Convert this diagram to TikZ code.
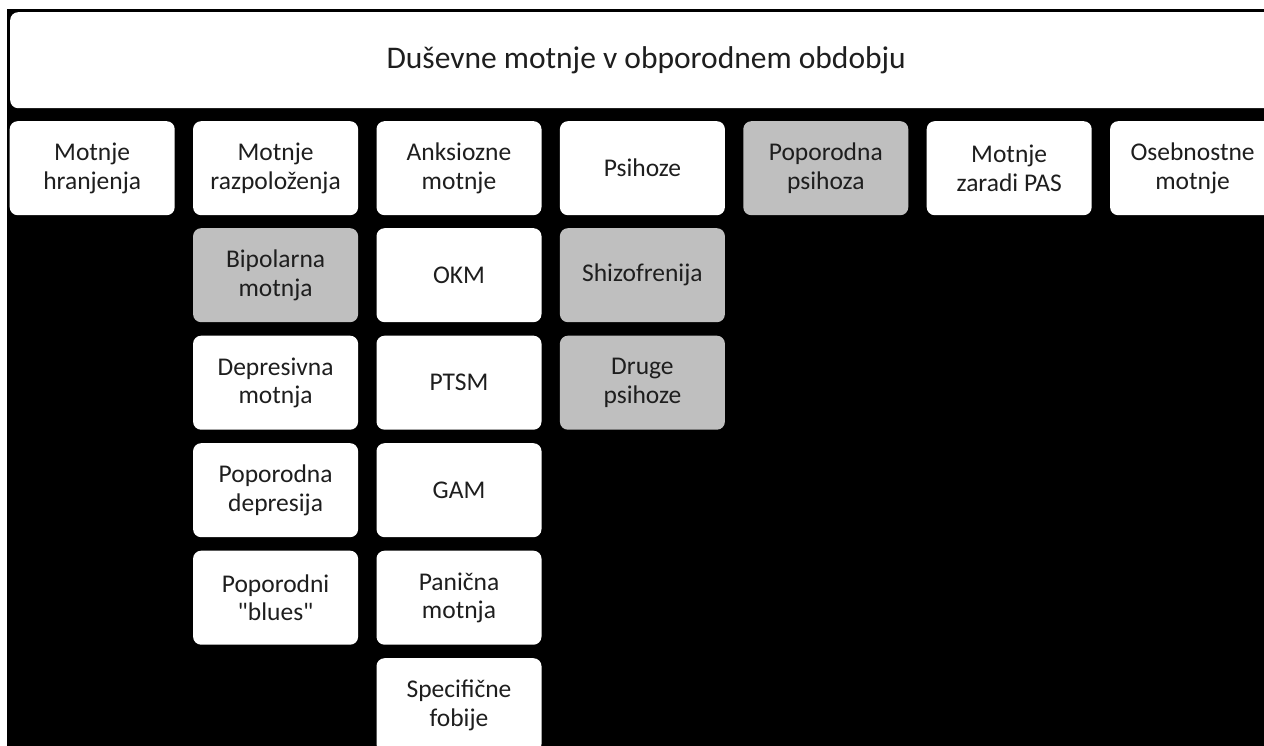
\documentclass[tikz,border=0pt]{standalone}
\usepackage{fontspec}
\setmainfont{Carlito}
\definecolor{boxgray}{HTML}{BFBFBF}
\definecolor{txt}{HTML}{1E1E1E}
\tikzset{
  cell/.style={fill=white, rounded corners=8pt, minimum width=165pt, minimum height=94pt,
    anchor=north west, inner sep=0pt, align=center, text=txt,
    font=\fontsize{25.5}{28.5}\selectfont},
  grayed/.style={cell, fill=boxgray},
}
\begin{document}
\begin{tikzpicture}[x=1pt,y=-1pt]
\useasboundingbox (0,0) rectangle (1264,746);
\clip (0,0) rectangle (1264,746);
\fill[white] (0,0) rectangle (1264,746);
\fill[black] (7,9) rectangle (1264,746);
\node[fill=white, rounded corners=8pt, minimum width=1272pt, minimum height=96pt, anchor=north west,
  inner sep=0pt, text=txt, font=\fontsize{31.5}{36}\selectfont] (title) at (10,12) {Duševne motnje v obporodnem obdobju};
% row 1
\node[cell] (c1) at (9.5,121) {Motnje\\hranjenja};
\node[cell] (c2) at (192.9,121) {Motnje\\razpoloženja};
\node[cell] (c3) at (376.3,121) {Anksiozne\\motnje};
\node[cell] (c4) at (559.7,121) {Psihoze};
\node[grayed] (c5) at (743.1,121) {Poporodna\\psihoza};
\node[cell] (c6) at (926.5,121) {Motnje\\zaradi PAS};
\node[cell] (c7) at (1109.9,121) {Osebnostne\\motnje};
% column 2
\node[grayed] (m1) at (192.9,228) {Bipolarna\\motnja};
\node[cell] (m2) at (192.9,335.5) {Depresivna\\motnja};
\node[cell] (m3) at (192.9,443) {Poporodna\\depresija};
\node[cell] (m4) at (192.9,550.5) {Poporodni\\\textquotedbl blues\textquotedbl};
% column 3
\node[cell] (a1) at (376.3,228) {OKM};
\node[cell] (a2) at (376.3,335.5) {PTSM};
\node[cell] (a3) at (376.3,443) {GAM};
\node[cell] (a4) at (376.3,550.5) {Panična\\motnja};
\node[cell] (a5) at (376.3,658) {Specifične\\fobije};
% column 4
\node[grayed] (p1) at (559.7,228) {Shizofrenija};
\node[grayed] (p2) at (559.7,335.5) {Druge\\psihoze};
\end{tikzpicture}
\end{document}
